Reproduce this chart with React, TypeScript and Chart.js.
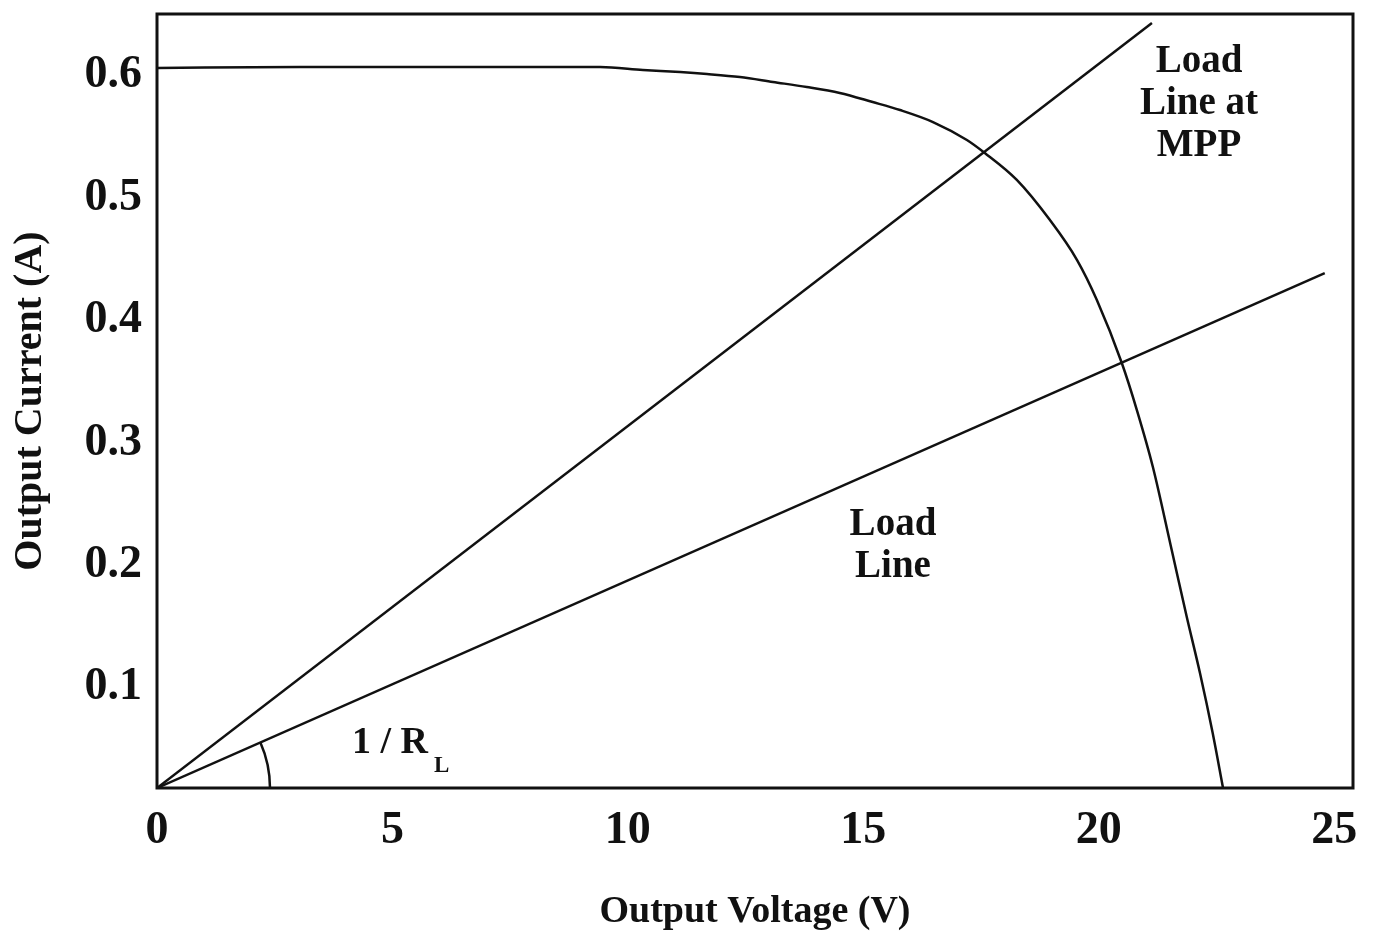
import React, { useEffect, useRef } from "react";
import { Chart, registerables } from "chart.js";

Chart.register(...registerables);

// ---- data ----
const X_MIN = 0;
const X_MAX = 25.4;
const Y_MIN = 0.018;
const Y_MAX = 0.65;

const xTicks = [0, 5, 10, 15, 20, 25];
const yTicks = [0.1, 0.2, 0.3, 0.4, 0.5, 0.6];

// I-V curve of the PV module
const ivVoltage = [0, 3.04, 9.41, 10.32, 11.11, 11.68, 12.38, 13.08, 13.8, 14.5, 15.2, 15.78, 16.48, 17.2, 17.58, 18.26, 18.96, 19.54, 19.96, 20.49, 20.81, 21.15, 21.55, 21.87, 22.15, 22.42, 22.64];
const ivCurrent = [0.6059, 0.6067, 0.6067, 0.6043, 0.6026, 0.601, 0.5985, 0.5945, 0.5904, 0.5855, 0.5781, 0.5716, 0.5618, 0.5471, 0.5365, 0.5145, 0.4819, 0.4491, 0.4165, 0.365, 0.3266, 0.2801, 0.2123, 0.1576, 0.1119, 0.0629, 0.018];

// load line at the maximum power point
const mppLineVoltage = [0, 21.13];
const mppLineCurrent = [0.018, 0.6427];

// ordinary load line
const loadLineVoltage = [0, 24.8];
const loadLineCurrent = [0.018, 0.4385];

const xTitle = "Output Voltage (V)";
const yTitle = "Output Current (A)";

const notes = [
  { x: 22.13, y: 0.603, lines: ["Load", "Line at", "MPP"] },
  { x: 15.63, y: 0.2246, lines: ["Load", "Line"] },
];
const slopeLabel = { x: 4.14, y: 0.0466, text: "1 / R", sub: "L" };

const FONT = "'Liberation Serif', 'Times New Roman', serif";
const INK = "#111111";

const toPoints = (xs: number[], ys: number[]) => xs.map((x, i) => ({ x, y: ys[i] }));

const decorPlugin = {
  id: "decor",
  afterDraw(chart: any) {
    const { ctx, chartArea, scales } = chart;
    const xs = scales.x;
    const ys = scales.y;
    ctx.save();
    // frame
    ctx.strokeStyle = INK;
    ctx.lineWidth = 3;
    ctx.strokeRect(chartArea.left, chartArea.top, chartArea.right - chartArea.left, chartArea.bottom - chartArea.top);

    // block notes
    ctx.fillStyle = INK;
    ctx.textAlign = "center";
    ctx.textBaseline = "alphabetic";
    ctx.font = `bold 39px ${FONT}`;
    notes.forEach((n) => {
      const px = xs.getPixelForValue(n.x);
      const py = ys.getPixelForValue(n.y);
      n.lines.forEach((l, i) => ctx.fillText(l, px, py + i * 42));
    });

    // 1 / R_L
    ctx.textAlign = "left";
    ctx.font = `bold 38px ${FONT}`;
    const lx = xs.getPixelForValue(slopeLabel.x);
    const ly = ys.getPixelForValue(slopeLabel.y);
    ctx.fillText(slopeLabel.text, lx, ly);
    const w = ctx.measureText(slopeLabel.text).width;
    ctx.font = `bold 23px ${FONT}`;
    ctx.fillText(slopeLabel.sub, lx + w + 6, ly + 19);

    // angle arc between load line and the voltage axis
    const ox = xs.getPixelForValue(loadLineVoltage[0]);
    const oy = ys.getPixelForValue(loadLineCurrent[0]);
    const ex = xs.getPixelForValue(loadLineVoltage[1]);
    const ey = ys.getPixelForValue(loadLineCurrent[1]);
    const ang = Math.atan2(ey - oy, ex - ox);
    ctx.beginPath();
    ctx.lineWidth = 2.5;
    ctx.arc(ox, oy, 113, ang, 0);
    ctx.stroke();
    ctx.restore();
  },
};

export default function App() {
  const ref = useRef<HTMLCanvasElement | null>(null);

  useEffect(() => {
    if (!ref.current) return;
    const lineStyle = {
      borderColor: INK,
      borderWidth: 2.5,
      pointRadius: 0,
      fill: false,
    };
    const chart = new Chart(ref.current, {
      type: "line",
      data: {
        datasets: [
          { ...lineStyle, label: "I-V", data: toPoints(ivVoltage, ivCurrent), cubicInterpolationMode: "monotone" },
          { ...lineStyle, label: "Load Line at MPP", data: toPoints(mppLineVoltage, mppLineCurrent), tension: 0 },
          { ...lineStyle, label: "Load Line", data: toPoints(loadLineVoltage, loadLineCurrent), tension: 0 },
        ] as any,
      },
      options: {
        animation: false,
        responsive: false,
        layout: { padding: { top: 14, right: 26, left: 8, bottom: 0 } },
        plugins: { legend: { display: false }, tooltip: { enabled: false } },
        scales: {
          x: {
            type: "linear",
            min: X_MIN,
            max: X_MAX,
            grid: { display: false, drawTicks: false },
            border: { display: false },
            afterBuildTicks: (s: any) => {
              s.ticks = xTicks.map((v) => ({ value: v }));
            },
            afterFit: (s: any) => {
              s.height = 143;
              s.paddingLeft = 0;
              s.paddingRight = 0;
            },
            ticks: {
              autoSkip: false,
              maxRotation: 0,
              padding: 16,
              color: INK,
              font: { family: FONT, size: 46, weight: "bold" },
              callback: (v: any) => String(v),
            },
            title: {
              display: true,
              text: xTitle,
              color: INK,
              padding: { top: 0, bottom: 0 },
              font: { family: FONT, size: 38, weight: "bold", lineHeight: 1 },
            },
          },
          y: {
            type: "linear",
            min: Y_MIN,
            max: Y_MAX,
            grid: { display: false, drawTicks: false },
            border: { display: false },
            afterBuildTicks: (s: any) => {
              s.ticks = yTicks.map((v) => ({ value: v }));
            },
            afterFit: (s: any) => {
              s.width = 149;
              s.paddingTop = 0;
              s.paddingBottom = 0;
            },
            ticks: {
              autoSkip: false,
              padding: 15,
              color: INK,
              font: { family: FONT, size: 46, weight: "bold" },
              callback: (v: any) => Number(v).toFixed(1),
            },
            title: {
              display: true,
              text: yTitle,
              color: INK,
              padding: { top: 3, bottom: 0 },
              font: { family: FONT, size: 40, weight: "bold", lineHeight: 1 },
            },
          },
        },
      } as any,
      plugins: [decorPlugin],
    });
    return () => chart.destroy();
  }, []);

  return (
    <div style={{ position: "absolute", left: 0, top: 0, width: 1379, height: 931, background: "#fff" }}>
      <canvas ref={ref} width={1379} height={931} style={{ display: "block" }} />
    </div>
  );
}
